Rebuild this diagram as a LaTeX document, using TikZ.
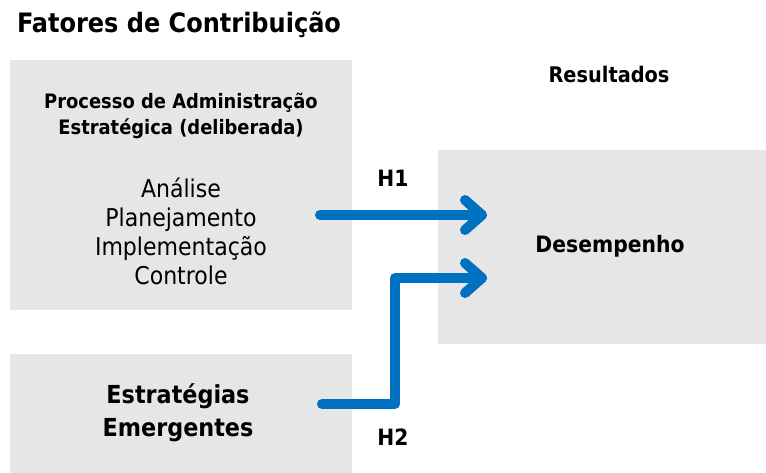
\documentclass[tikz,border=0pt]{standalone}
\usepackage{fontspec}
\setmainfont{DejaVu Sans Condensed}
\usetikzlibrary{calc}
\definecolor{boxgray}{HTML}{E6E6E6}
\definecolor{arrblue}{HTML}{0070C0}
\tikzset{
  box/.style={fill=boxgray, draw=none, inner sep=0pt, anchor=north west},
  arr/.style={draw=arrblue, line width=10pt, line cap=round, line join=round},
  lbl/.style={inner sep=0pt, align=center, text=black},
}
\begin{document}
\begin{tikzpicture}[x=1pt,y=-1pt]
\useasboundingbox (0,0) rectangle (766,473);
\fill[white] (0,0) rectangle (766,473);
% boxes
\node[box, minimum width=342pt, minimum height=250pt] (proc) at (10,60) {};
\node[box, minimum width=342pt, minimum height=119pt] (emer) at (10,354) {};
\node[box, minimum width=328pt, minimum height=194pt] (des) at (438,150) {};
% texts
\node[lbl, font=\bfseries\fontsize{26.7}{30}\selectfont] (title) at (179,25) {Fatores de Contribuição};
\node[lbl, font=\bfseries\fontsize{21.5}{24}\selectfont] (res) at (609,74) {Resultados};
\node[lbl, font=\bfseries\fontsize{19.9}{26}\selectfont] (ptitle) at (181,116) {Processo de Administração\\Estratégica (deliberada)};
\node[lbl, font=\fontsize{24.5}{29}\selectfont] (steps) at (181,231) {Análise\\Planejamento\\Implementação\\Controle};
\node[lbl, font=\bfseries\fontsize{24.8}{33}\selectfont] (etext) at (178,413) {Estratégias\\Emergentes};
\node[lbl, font=\bfseries\fontsize{22.6}{24}\selectfont] (desc) at (610,246) {Desempenho};
\node[lbl, font=\bfseries\fontsize{22.5}{24}\selectfont] (h1) at (393,178) {H1};
\node[lbl, font=\bfseries\fontsize{22.5}{24}\selectfont] (h2) at (393,437) {H2};
% arrow coordinates
\coordinate (a1s) at (320,215);
\coordinate (a1t) at (482,215);
\coordinate (a2s) at (322,404);
\coordinate (a2c) at (395,404);
\coordinate (a2d) at (395,278);
\coordinate (a2t) at (482,278);
% arrows
\draw[arr] (a1s) -- (a1t);
\draw[arr] ($(a1t)+(-17,-15)$) -- (a1t) -- ($(a1t)+(-17,15)$);
\draw[arr] (a2s) -- (a2c) -- (a2d) -- (a2t);
\draw[arr] ($(a2t)+(-17,-15)$) -- (a2t) -- ($(a2t)+(-17,15)$);
\end{tikzpicture}
\end{document}
